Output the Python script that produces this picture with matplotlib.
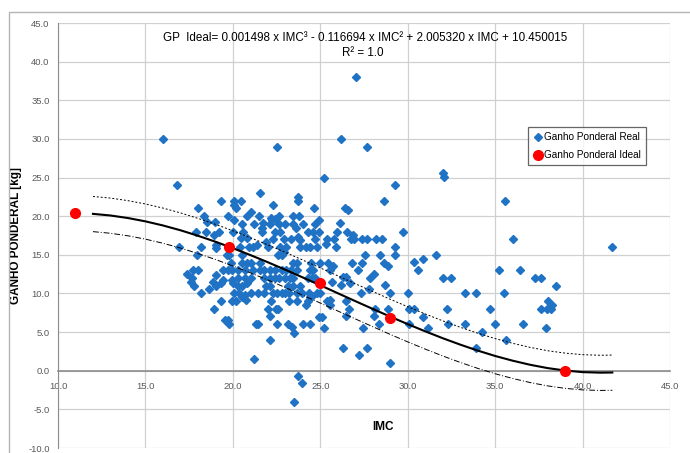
import matplotlib
matplotlib.use("Agg")
import matplotlib.pyplot as plt
from matplotlib.patches import Rectangle

# Ganho Ponderal Real (IMC, GP)
real_imc = [
    16.0, 16.8, 22.5, 27.05, 26.2, 27.7, 25.2, 29.3, 28.65, 32.0, 32.1, 35.55, 36.0, 41.7,
    # left cluster
    19.3, 20.05, 20.45, 18.0, 20.05, 20.2, 18.35, 19.75, 20.8, 20.05, 18.5, 19.0, 20.5,
    17.9, 18.45, 19.2, 20.0, 20.6, 18.9, 20.45, 20.8, 16.9, 18.2, 19.05, 19.05, 20.4, 20.9,
    17.95, 19.65, 19.8, 20.55, 19.9, 20.5, 20.8, 19.45, 19.75, 19.95, 20.3, 20.7, 17.35,
    17.65, 18.0, 17.7, 19.05, 18.85, 19.45, 19.95, 20.3, 20.7, 17.6, 19.35, 20.0,
    # middle cluster
    21.55, 23.75, 23.75, 22.3, 24.65, 21.05, 21.5, 22.2, 22.4, 23.45, 23.8, 24.9, 21.2,
    21.75, 22.1, 23.0, 23.45, 24.0, 24.7, 21.65, 21.65, 22.4, 22.7, 24.3, 24.6, 24.9,
    22.3, 22.9, 23.35, 23.75, 23.85, 24.7, 25.4, 21.15, 21.4, 21.9, 22.0, 22.7, 23.05,
    23.85, 24.2, 24.4, 24.8, 22.9, 22.6, 22.8, 21.05, 21.55, 23.45, 23.65, 24.45, 25.0,
    25.45, 21.15, 21.55, 21.8, 22.1, 22.4, 22.8, 23.05, 23.35, 23.65, 24.4, 24.6,
    21.05, 21.8, 22.1, 22.4, 22.65, 23.0, 23.25, 23.45, 24.3, 24.5, 24.7,
    22.25, 22.65, 22.65, 23.6, 25.3,
    # right of centre
    26.4, 26.6, 26.1, 25.95, 26.5, 29.75, 26.85, 25.8, 26.75, 26.9, 27.4, 27.65, 28.2,
    28.55, 25.9, 29.25, 27.55, 28.4, 29.3, 25.7, 26.8, 27.4, 28.65, 28.9, 25.55, 27.15,
    28.05, 27.85, 26.3, 26.45, 25.65, 26.7, 28.7, 26.2,
    # lower left
    18.2, 18.65, 17.8, 19.05, 20.3, 20.55, 20.8, 20.05, 20.35, 20.7, 20.55, 20.75,
    19.95, 20.2, 19.3, 18.9, 19.55, 19.75, 19.8,
    # lower middle
    21.9, 22.1, 23.15, 23.45, 23.85, 21.05, 21.45, 21.8, 22.3, 22.5, 22.8, 23.0, 23.2,
    23.65, 23.95, 24.35, 24.8, 25.0, 24.5, 24.4, 22.2, 23.2, 23.65, 24.3, 25.4, 24.2,
    22.0, 22.45, 22.6, 24.9, 25.1, 22.1, 21.3, 21.45, 22.5, 23.15, 24.0, 24.4, 23.4,
    25.2, 23.5, 22.15, 21.2, 23.7, 23.95, 23.5,
    # lower right of centre
    27.8, 27.3, 29.0, 30.0, 25.55, 25.55, 26.45, 26.65, 28.15, 28.85, 26.45, 28.05,
    28.35, 27.45, 26.3, 27.2, 27.7, 29.0,
    # far right
    31.6, 30.35, 30.9, 30.6, 35.2, 36.4, 32.0, 32.5, 37.3, 37.6, 38.5, 33.3, 33.9, 35.5,
    38.0, 38.25, 30.05, 30.35, 32.25, 34.7, 37.6, 37.95, 38.2, 30.9, 30.1, 32.3, 33.3,
    35.0, 36.6, 31.15, 37.9, 34.25, 35.6, 33.9,
]
real_gp = [
    30, 24, 29, 38, 30, 29, 25, 24, 22, 25.6, 25.1, 22, 17, 16,
    22, 22, 22, 21, 21.5, 21, 20, 20, 20, 19.5, 19.2, 19.2, 19,
    18, 18, 18, 18, 18, 17.6, 17.2, 17.2, 16, 16, 16.3, 15.9, 16, 16,
    15, 15, 15, 15, 14, 14, 14, 13, 13, 13, 13, 13, 12.5,
    12, 13, 13, 12.4, 11.5, 11.8, 11.8, 12, 12, 11.5, 11.3, 11.3,
    23, 22.5, 22, 21.5, 21, 20.6, 20, 19.8, 19.6, 20, 20, 19.5, 19,
    19.1, 19, 19, 19, 19, 19, 18.5, 18, 18, 18, 18, 18, 18,
    17, 17, 17, 17.3, 16.9, 17, 17, 16, 16.3, 16.6, 16, 16, 16,
    16, 16, 16, 16, 15.4, 15, 15, 13.9, 14, 14, 14, 14, 14,
    14, 13, 13, 13, 13, 13, 13, 13, 13, 13, 13, 13,
    12, 12, 12, 12, 12, 12, 12, 12, 12, 12, 12,
    19.5, 20, 19, 18.5, 16.4,
    21.1, 20.8, 19.1, 18, 18, 18, 17.6, 17, 17, 17, 17, 17, 17,
    17, 16, 16, 15, 15, 15, 13.6, 14, 14, 14, 13.6, 13, 13,
    12.5, 12, 12.1, 12.1, 11.5, 11.3, 11.1, 11.1,
    10, 10.6, 11, 11, 11, 11, 11.3, 10, 10, 9.8, 9.5, 9.2,
    9, 9, 9, 8, 6.6, 6.6, 6.1,
    11, 11, 11, 11, 11, 10, 10, 10, 10, 10, 10, 10, 10,
    10, 10, 10, 10, 10, 9.7, 9.5, 9, 9, 9, 9, 9, 8.5,
    8, 8, 8, 7, 7, 7.1, 6, 6, 6, 6, 6, 6, 5.6,
    5.5, 4.9, 4, 1.5, -0.7, -1.6, -4.05,
    10.6, 10, 10, 10, 9.1, 8.5, 9, 8, 8, 8, 7.1, 7.1,
    6, 5.5, 3, 2, 3, 1,
    15, 14.1, 14.4, 13, 13, 13, 12, 12, 12, 12, 11, 10, 10, 10,
    9, 8.5, 8, 8, 8, 8, 8, 8, 8, 7, 6, 6, 6,
    6, 6, 5.5, 5.5, 5, 4, 3,
]

# Ganho Ponderal Ideal
ideal_imc = [11.0, 19.8, 25.0, 29.0, 39.0]
ideal_gp = [20.45, 16.0, 11.4, 6.85, 0.0]

# trend line and band
curve_imc = [12, 13, 14, 15, 16, 17, 18, 19, 20, 21, 22, 23, 24, 25, 26, 27, 28, 29, 30,
             31, 32, 33, 34, 35, 36, 37, 38, 39, 40, 41, 41.7]
curve_gp = [20.30, 20.09, 19.76, 19.33, 18.80, 18.18, 17.47, 16.70, 15.86, 14.97, 14.04,
            13.07, 12.07, 11.06, 10.03, 9.01, 8.00, 7.00, 6.03, 5.10, 4.21, 3.38, 2.61,
            1.91, 1.30, 0.77, 0.34, 0.03, -0.18, -0.25, -0.23]
upper_gp = [22.55, 22.34, 22.01, 21.58, 21.05, 20.43, 19.72, 18.95, 18.11, 17.22, 16.29,
            15.32, 14.32, 13.31, 12.28, 11.26, 10.25, 9.25, 8.28, 7.35, 6.46, 5.63, 4.86,
            4.16, 3.55, 3.02, 2.59, 2.28, 2.08, 2.00, 2.03]
lower_gp = [18.00, 17.79, 17.46, 17.03, 16.50, 15.88, 15.17, 14.40, 13.56, 12.67, 11.74,
            10.77, 9.77, 8.76, 7.73, 6.71, 5.70, 4.70, 3.73, 2.80, 1.91, 1.08, 0.31,
            -0.39, -1.00, -1.53, -1.96, -2.28, -2.48, -2.55, -2.53]

xticks = [10, 15, 20, 25, 30, 35, 40, 45]
yticks = [-10, -5, 0, 5, 10, 15, 20, 25, 30, 35, 40, 45]

plt.rcParams['font.family'] = ['Liberation Sans', 'DejaVu Sans']

fig = plt.figure(figsize=(6.9, 4.53), dpi=100)
ax = fig.add_axes([58 / 690, 1 - 448 / 453, 612 / 690, 425 / 453])

# chart frame
fig.patches.append(Rectangle((9 / 690, -0.05), 1.0, 1 - 12 / 453 + 0.05,
                             transform=fig.transFigure, fill=False,
                             edgecolor='#b4b4b4', linewidth=1.0))

ax.set_xlim(10, 45)
ax.set_ylim(-10, 45)
ax.set_xticks(xticks)
ax.set_yticks(yticks)
ax.set_xticklabels([f"{v:.1f}" for v in xticks])
ax.set_yticklabels([f"{v:.1f}" for v in yticks])
ax.grid(True, color='#d0d0d0', linewidth=0.9)
ax.set_axisbelow(True)
ax.tick_params(axis='both', length=0, labelsize=6.8, labelcolor='#595959')
ax.tick_params(axis='y', pad=6)
ax.tick_params(axis='x', pad=8)

for s in ['top', 'right']:
    ax.spines[s].set_visible(False)
ax.spines['left'].set_color('#8c8c8c')
ax.spines['bottom'].set_position(('data', 0))
ax.spines['bottom'].set_color('#8c8c8c')
ax.spines['bottom'].set_linewidth(1.2)

ax.plot(real_imc, real_gp, linestyle='', marker='D', markersize=3.6,
        color='#1f72c4', label='Ganho Ponderal Real', zorder=2)
ax.plot(curve_imc, upper_gp, color='black', linewidth=0.7, linestyle=(0, (2, 2)), zorder=3)
ax.plot(curve_imc, lower_gp, color='black', linewidth=0.7, linestyle=(0, (6, 2, 1, 2)), zorder=3)
ax.plot(curve_imc, curve_gp, color='black', linewidth=1.5, zorder=3)
ax.plot(ideal_imc, ideal_gp, linestyle='', marker='o', markersize=7,
        color='#ff0000', label='Ganho Ponderal Ideal', zorder=4)

ax.text(0.502, 0.965, "GP  Ideal= 0.001498 x IMC³ - 0.116694 x IMC² + 2.005320 x IMC + 10.450015",
        transform=ax.transAxes, ha='center', va='center', fontsize=8.4)
ax.text(0.498, 0.929, "R² = 1.0", transform=ax.transAxes, ha='center', va='center', fontsize=8.4)

ax.set_ylabel("GANHO PONDERAL [kg]", fontsize=8.5, fontweight='bold')
ax.yaxis.set_label_coords(-0.059, 0.5)
ax.text(28.6, -7.3, "IMC", ha='center', va='center', fontsize=8.5, fontweight='bold')

leg = ax.legend(loc='upper left', bbox_to_anchor=(0.768, 0.755), fontsize=7.2,
                frameon=True, fancybox=False, handletextpad=0.1, handlelength=1.0,
                borderpad=0.5, labelspacing=0.8, borderaxespad=0)
leg.get_frame().set_edgecolor('#404040')
leg.get_frame().set_linewidth(0.9)

fig.savefig("out.png", dpi=100)
